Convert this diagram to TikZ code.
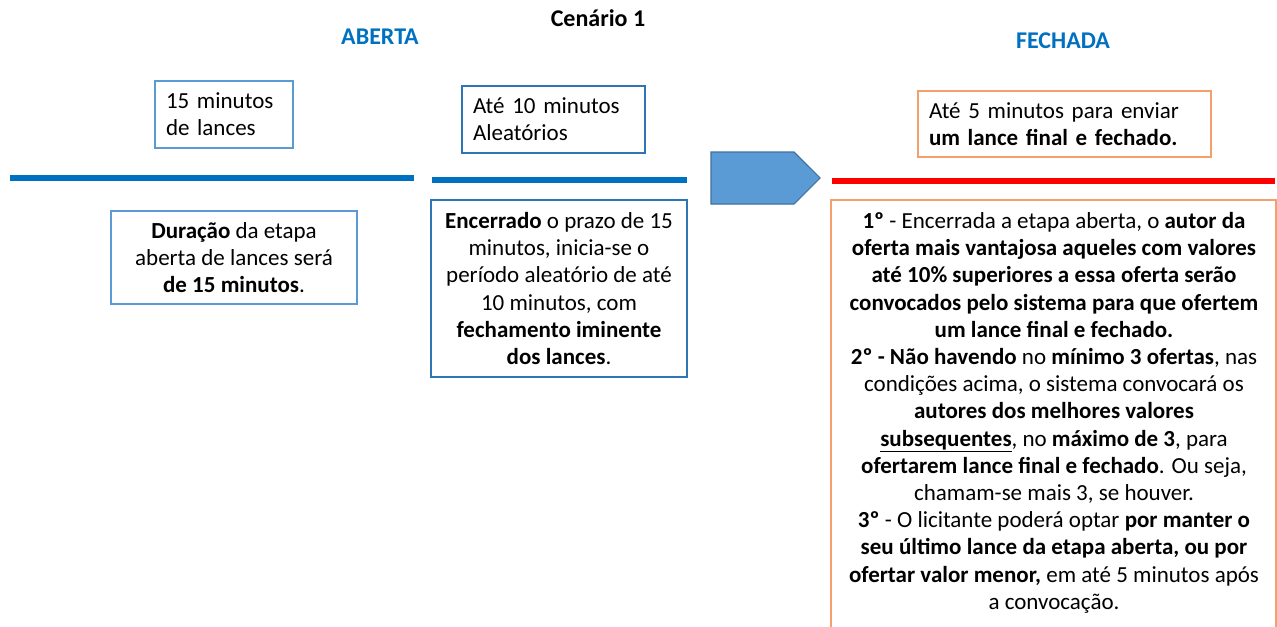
\documentclass[tikz,border=0pt]{standalone}
\usepackage{fontspec}
\setmainfont{Carlito}
\usepackage{tikz}
\usetikzlibrary{shapes.symbols}
\definecolor{ppblue}{RGB}{0, 112, 192}
\definecolor{boxlight}{RGB}{91, 155, 213}
\definecolor{boxdark}{RGB}{46, 117, 182}
\definecolor{arrowedge}{RGB}{65, 113, 156}
\definecolor{ppred}{RGB}{255, 0, 0}
\definecolor{pporange}{RGB}{244, 160, 110}
\newdimen\pxu \pxu=0.75pt

\begin{document}
\begin{tikzpicture}[x=0.75pt, y=-0.75pt,
  title/.style={font=\fontsize{18pt}{21pt}\selectfont\bfseries},
  body/.style={font=\fontsize{17.25pt}{20.4pt}\selectfont},
  tagbox/.style={body, draw, line width=1.1pt, align=left, inner xsep=11\pxu, inner ysep=0pt},
  infobox/.style={body, draw, line width=1.1pt, align=center, inner sep=0pt},
  bar/.style={line width=4.6pt}]
\useasboundingbox (0,0) rectangle (1277,626);
\clip (0,0) rectangle (1277,626);

% Titles
\node[title] (cenario) at (598,18) {Cenário 1};
\node[title, ppblue] (aberta) at (380,37) {ABERTA};
\node[title, ppblue] (fechada) at (1063,41) {FECHADA};

% Boxes above the time line
\node[tagbox, draw=boxlight, text width=116\pxu, minimum height=67\pxu] (quinze) at (224,114.5)
  {15 minutos\\de lances};
\node[tagbox, draw=boxdark, text width=161\pxu, minimum height=67\pxu] (dez) at (553.5,119.5)
  {Até 10 minutos\\Aleatórios};
\node[tagbox, draw=pporange, text width=271\pxu, minimum height=66\pxu] (cinco) at (1064.5,124)
  {Até 5 minutos para enviar\\\textbf{um lance final e fechado.}};

% Time line
\draw[bar, ppblue] (10,178) -- (414,178);
\draw[bar, ppblue] (432,180) -- (687,180);
\node[signal, signal to=east, fill=boxlight, draw=arrowedge, line width=0.8pt,
  minimum width=109\pxu, minimum height=52\pxu, inner sep=0pt] (passa) at (752.5,178) {};
\draw[bar, ppred] (832,181) -- (1275,181);

% Boxes below the time line
\node[infobox, draw=boxlight, minimum width=246\pxu, minimum height=93\pxu] (duracao) at (234,257.5)
  {\textbf{Duração} da etapa\\aberta de lances será\\\textbf{de 15 minutos}.};
\node[infobox, draw=boxdark, minimum width=256\pxu, minimum height=177\pxu] (encerrado) at (559,288.5)
  {\textbf{Encerrado} o prazo de 15\\minutos, inicia-se o\\período aleatório de até\\10 minutos, com\\\textbf{fechamento iminente}\\\textbf{dos lances}.};

% Rules of the closed stage
\node[body, align=center, inner sep=0pt, anchor=north] (regras) at (1054,212)
  {\textbf{1º} - Encerrada a etapa aberta, o \textbf{autor da}\\
   \textbf{oferta mais vantajosa aqueles com valores}\\
   \textbf{até 10\% superiores a essa oferta serão}\\
   \textbf{convocados pelo sistema para que ofertem}\\
   \textbf{um lance final e fechado.}\\
   \textbf{2º - Não havendo} no \textbf{mínimo 3 ofertas}, nas\\
   condições acima, o sistema convocará os\\
   \textbf{autores dos melhores valores}\\
   \textbf{\underline{subsequentes}}, no \textbf{máximo de 3}, para\\
   \textbf{ofertarem lance final e fechado}. Ou seja,\\
   chamam-se mais 3, se houver.\\
   \textbf{3º} - O licitante poderá optar \textbf{por manter o}\\
   \textbf{seu último lance da etapa aberta, ou por}\\
   \textbf{ofertar valor menor,} em até 5 minutos após\\
   a convocação.};
\draw[pporange, line width=1.1pt] (831,200) rectangle (1276,640);
\end{tikzpicture}
\end{document}
